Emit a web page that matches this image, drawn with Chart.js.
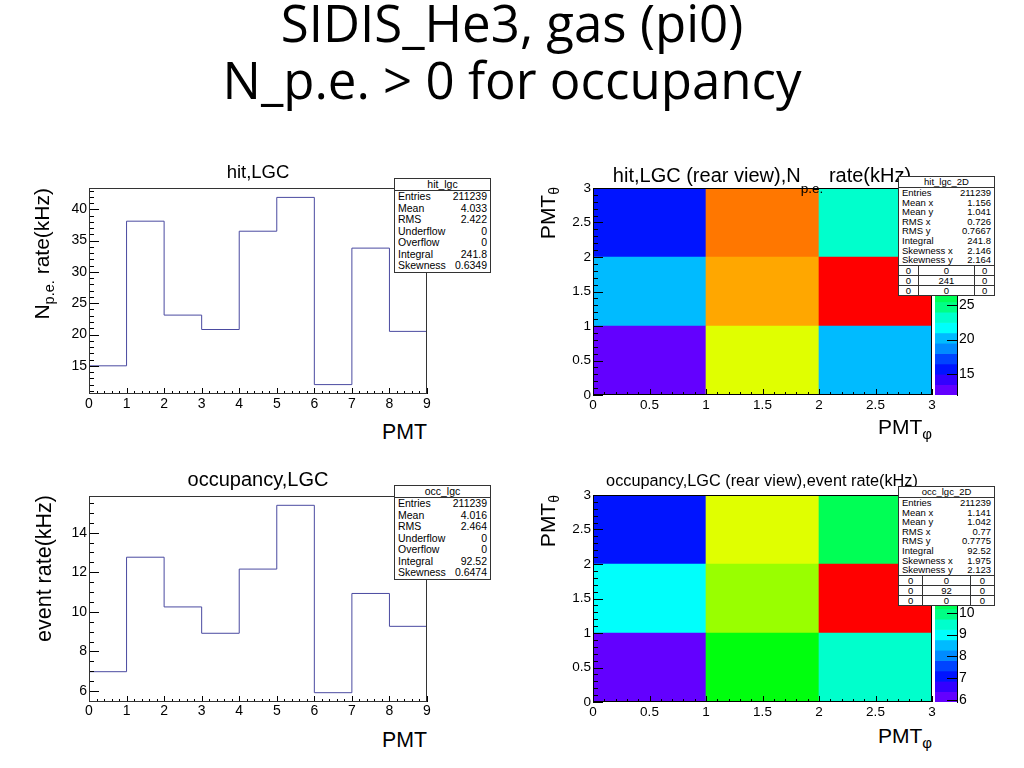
<!DOCTYPE html>
<html>
<head>
<meta charset="utf-8">
<script src="https://cdn.jsdelivr.net/npm/chart.js@4.4.1/dist/chart.umd.min.js"></script>
<style>
  body { margin: 0; width: 1024px; height: 768px; position: relative; overflow: hidden; background: #fff;
         font-family: 'Liberation Sans', Arial, sans-serif; color: #000; }
  canvas { position: absolute; z-index: 1; }
  .t { position: absolute; white-space: nowrap; line-height: 1; z-index: 3; }
  .slide { font-family: 'Open Sans', sans-serif; font-size: 51px; left: 0; width: 1024px; text-align: center; }
  .rot { transform-origin: 0 0; transform: rotate(-90deg); text-align: right; }
  .stats { position: absolute; background: #fff; border: 1px solid #333; z-index: 5; }
  .stats .sh { text-align: center; border-bottom: 1px solid #333; }
  .stats .sr { display: flex; justify-content: space-between; padding: 0 3px; }
  .stats table { border-collapse: collapse; width: 100%; }
  .stats td { border-top: 1px solid #333; border-left: 1px solid #333; text-align: center; padding: 0; }
  .stats td:first-child { border-left: none; }
</style>
</head>
<body>

<div class="t slide" style="top:-3px">SIDIS_He3, gas (pi0)</div>
<div class="t slide" style="top:54px">N_p.e. &gt; 0 for occupancy</div>

<div class="t" style="left:258px; top:163px; font-size:18.5px; transform:translateX(-50%)">hit,LGC</div>
<div class="t" style="left:258px; top:469px; font-size:20px; transform:translateX(-50%)">occupancy,LGC</div>
<div class="t" style="left:762px; top:165px; font-size:20px; transform:translateX(-50%)">hit,LGC (rear view),N<span style="font-size:13.6px; vertical-align:-11px">p.e.</span> rate(kHz)</div>
<div class="t" style="left:762px; top:472px; font-size:16.3px; transform:translateX(-50%)">occupancy,LGC (rear view),event rate(kHz)</div>

<div class="t rot" style="left:31px; top:388px; width:200px; font-size:21px">N<span style="font-size:14.5px; vertical-align:-5px">p.e.</span> rate(kHz)</div>
<div class="t rot" style="left:34px; top:695px; width:200px; font-size:21.5px">event rate(kHz)</div>
<div class="t rot" style="left:537px; top:387px; width:200px; font-size:21px">PMT<span style="font-size:14px; vertical-align:-4px">θ</span></div>
<div class="t rot" style="left:537px; top:695px; width:200px; font-size:21px">PMT<span style="font-size:14px; vertical-align:-4px">θ</span></div>

<div class="t" style="right:597px; top:422px; font-size:21.3px">PMT</div>
<div class="t" style="right:597px; top:730px; font-size:21.3px">PMT</div>
<div class="t" style="right:92px; top:416px; font-size:21px">PMT<span style="font-size:15px; vertical-align:-5px">φ</span></div>
<div class="t" style="right:92px; top:725px; font-size:21px">PMT<span style="font-size:15px; vertical-align:-5px">φ</span></div>

<canvas id="hitHist" width="400" height="235" style="left:40px; top:180px"></canvas>
<canvas id="occHist" width="400" height="235" style="left:40px; top:488px"></canvas>
<canvas id="hitMap" width="390" height="235" style="left:550px; top:180px"></canvas>
<canvas id="occMap" width="390" height="235" style="left:550px; top:487px"></canvas>
<canvas id="hitBar" width="60" height="235" style="left:930px; top:180px"></canvas>
<canvas id="occBar" width="60" height="235" style="left:930px; top:487px"></canvas>

<script>
// PMT bin edges and rates
const pmtEdges = [0, 1, 2, 3, 4, 5, 6, 7, 8, 9];
const hitRate = [15.0, 38.1, 23.1, 20.8, 36.5, 41.9, 12.0, 33.8, 20.5];
const occRate = [6.98, 12.76, 10.25, 8.92, 12.16, 15.38, 5.92, 10.93, 9.27];
const hitYRange = [10.5, 43.4];
const occYRange = [5.45, 15.85];

// rear view: PMT number in each cell, rows from theta 0-1 up to 2-3
const phiEdges = [0, 1, 2, 3];
const thetaEdges = [0, 1, 2, 3];
const cellPmt = [[6, 7, 8], [3, 4, 5], [0, 1, 2]];

const hitStats = [['Entries', '211239'], ['Mean', '4.033'], ['RMS', '2.422'], ['Underflow', '0'],
  ['Overflow', '0'], ['Integral', '241.8'], ['Skewness', '0.6349']];
const occStats = [['Entries', '211239'], ['Mean', '4.016'], ['RMS', '2.464'], ['Underflow', '0'],
  ['Overflow', '0'], ['Integral', '92.52'], ['Skewness', '0.6474']];
const hitStats2D = [['Entries', '211239'], ['Mean x', '1.156'], ['Mean y', '1.041'], ['RMS x', '0.726'],
  ['RMS y', '0.7667'], ['Integral', '241.8'], ['Skewness x', '2.146'], ['Skewness y', '2.164']];
const occStats2D = [['Entries', '211239'], ['Mean x', '1.141'], ['Mean y', '1.042'], ['RMS x', '0.77'],
  ['RMS y', '0.7775'], ['Integral', '92.52'], ['Skewness x', '1.975'], ['Skewness y', '2.123']];
const hitTable = [['0', '0', '0'], ['0', '241', '0'], ['0', '0', '0']];
const occTable = [['0', '0', '0'], ['0', '92', '0'], ['0', '0', '0']];

const nLevels = 20;
const lineColor = '#4a4aa0';

Chart.defaults.font.family = "'Liberation Sans', Arial, sans-serif";
Chart.defaults.color = '#000';

// old ROOT "pretty" palette, 50 colours, 20 contour levels
function levelColor(lvl) {
  var idx = Math.floor((lvl + 0.99) * 50 / nLevels);
  var hue = 280 - (idx + 1) * 280 / 50;
  return 'hsl(' + hue + ',100%,50%)';
}
function zColor(z, zr) {
  var lvl = Math.floor((z - zr[0]) / (zr[1] - zr[0]) * nLevels);
  lvl = Math.max(0, Math.min(nLevels - 1, lvl));
  return levelColor(lvl);
}
function plainNum(v) { return String(Math.round(v * 1000) / 1000); }

// ROOT-like frame and inward tick marks
const rootAxes = {
  id: 'rootAxes',
  afterDatasetsDraw(chart, args, opts) {
    var ctx = chart.ctx, a = chart.chartArea;
    ctx.save();
    ctx.strokeStyle = '#000';
    ctx.lineWidth = 1;
    ctx.beginPath();
    (opts.axes || []).forEach(function (ax) {
      var sc = chart.scales[ax.id];
      var step = sc.options.ticks.stepSize;
      var sub = step / ax.minor;
      var first = Math.ceil((sc.min - 1e-9) / sub);
      for (var k = first; k * sub <= sc.max + 1e-9; k++) {
        var v = k * sub;
        var major = Math.abs(v / step - Math.round(v / step)) < 1e-6;
        var len = major ? ax.len : ax.len / 2;
        var p = Math.round(sc.getPixelForValue(v)) + 0.5;
        if (ax.pos === 'bottom') { ctx.moveTo(p, a.bottom); ctx.lineTo(p, a.bottom - len); }
        if (ax.pos === 'left') { ctx.moveTo(a.left, p); ctx.lineTo(a.left + len, p); }
        if (ax.pos === 'right') { ctx.moveTo(a.right, p); ctx.lineTo(a.right - len, p); }
      }
    });
    ctx.stroke();
    if (opts.frame) {
      ctx.strokeStyle = opts.frame;
      ctx.strokeRect(Math.round(a.left) + 0.5, Math.round(a.top) + 0.5, Math.round(a.width) - 1, Math.round(a.height) - 1);
    }
    ctx.restore();
  }
};

function baseOptions(pad) {
  return {
    responsive: false, animation: false, events: [],
    layout: { padding: pad },
    plugins: { legend: { display: false }, tooltip: { enabled: false } }
  };
}

// fixed axis box so the plot frame lands where the reference has it
function fixSize(w, h) {
  return function (s) {
    if (w !== null) s.width = w;
    if (h !== null) s.height = h;
    s.paddingTop = 0; s.paddingBottom = 0; s.paddingLeft = 0; s.paddingRight = 0;
  };
}

function axisOpts(extra) {
  var o = {
    type: 'linear',
    grid: { display: false, drawTicks: false },
    border: { display: false },
    ticks: { padding: 2, font: { size: 14 }, maxRotation: 0, autoSkip: false, includeBounds: false, callback: plainNum }
  };
  Object.keys(extra).forEach(function (k) {
    if (k === 'ticks') Object.assign(o.ticks, extra.ticks); else o[k] = extra[k];
  });
  return o;
}

function histChart(id, vals, yr, yStep, yMinor, xPad) {
  var pts = pmtEdges.slice(0, -1).map(function (x, i) { return { x: x, y: vals[i] }; });
  pts.push({ x: pmtEdges[pmtEdges.length - 1], y: vals[vals.length - 1] });
  var opt = baseOptions({ top: 8, right: 13, left: 0, bottom: 0 });
  opt.plugins.rootAxes = {
    frame: '#333',
    axes: [{ id: 'x', pos: 'bottom', minor: 5, len: 6 }, { id: 'y', pos: 'left', minor: yMinor, len: 10 }]
  };
  opt.scales = {
    x: axisOpts({ min: pmtEdges[0], max: pmtEdges[pmtEdges.length - 1], ticks: { stepSize: 1, padding: xPad },
      afterFit: fixSize(null, 21) }),
    y: axisOpts({ min: yr[0], max: yr[1], ticks: { stepSize: yStep }, afterFit: fixSize(49, null) })
  };
  return new Chart(document.getElementById(id), {
    type: 'line',
    data: { datasets: [{ data: pts, borderColor: lineColor, borderWidth: 1, pointRadius: 0, stepped: 'before', fill: false }] },
    options: opt,
    plugins: [rootAxes]
  });
}

function mapChart(id, vals, zr) {
  var datasets = thetaEdges.slice(0, -1).map(function (lo, r) {
    return {
      data: phiEdges.slice(0, -1).map(function (x0, c) {
        return { x: (x0 + phiEdges[c + 1]) / 2, y: [lo, thetaEdges[r + 1]] };
      }),
      backgroundColor: cellPmt[r].map(function (p) { return zColor(vals[p], zr); }),
      borderWidth: 0, barThickness: 'flex', categoryPercentage: 1, barPercentage: 1
    };
  });
  var opt = baseOptions({ top: 8, right: 8, left: 0, bottom: 0 });
  opt.plugins.rootAxes = {
    frame: '#000',
    axes: [{ id: 'x', pos: 'bottom', minor: 5, len: 6 }, { id: 'y', pos: 'left', minor: 5, len: 10 }]
  };
  opt.scales = {
    x: axisOpts({ offset: false, stacked: true, min: phiEdges[0], max: phiEdges[phiEdges.length - 1],
      ticks: { stepSize: 0.5, font: { size: 13.5 } }, afterFit: fixSize(null, 20) }),
    y: axisOpts({ stacked: false, min: thetaEdges[0], max: thetaEdges[thetaEdges.length - 1],
      ticks: { stepSize: 0.5, font: { size: 13.5 } }, afterFit: fixSize(43, null) })
  };
  return new Chart(document.getElementById(id), {
    type: 'bar', data: { datasets: datasets }, options: opt, plugins: [rootAxes]
  });
}

function paletteChart(id, zr, zStep) {
  var dz = (zr[1] - zr[0]) / nLevels;
  var levels = [];
  for (var i = 0; i < nLevels; i++) levels.push(i);
  var opt = baseOptions({ top: 8, left: 5, right: 0, bottom: 20 });
  opt.indexAxis = 'y';
  opt.plugins.rootAxes = { axes: [{ id: 'y', pos: 'right', minor: 1, len: 10 }] };
  opt.scales = {
    x: { type: 'linear', min: 0, max: 1, display: false, ticks: { display: false } },
    y: axisOpts({ position: 'right', offset: false, min: zr[0], max: zr[1],
      border: { display: true, color: '#000' },
      ticks: { stepSize: zStep }, afterFit: fixSize(33, null) })
  };
  return new Chart(document.getElementById(id), {
    type: 'bar',
    data: { datasets: [{
      data: levels.map(function (l) { return { y: zr[0] + (l + 0.5) * dz, x: [0, 1] }; }),
      backgroundColor: levels.map(levelColor),
      borderWidth: 0, barThickness: 'flex', categoryPercentage: 1, barPercentage: 1
    }] },
    options: opt,
    plugins: [rootAxes]
  });
}

function statsBox(cfg) {
  var box = document.createElement('div');
  box.className = 'stats';
  box.style.left = cfg.left + 'px';
  box.style.top = cfg.top + 'px';
  box.style.width = cfg.width + 'px';
  box.style.fontSize = cfg.font + 'px';
  var html = '<div class="sh" style="height:' + cfg.head + 'px;line-height:' + cfg.head + 'px">' + cfg.name + '</div>';
  cfg.rows.forEach(function (r) {
    html += '<div class="sr" style="height:' + cfg.row + 'px;line-height:' + cfg.row + 'px"><span>' + r[0] + '</span><span>' + r[1] + '</span></div>';
  });
  if (cfg.table) {
    html += '<table>';
    cfg.table.forEach(function (tr) {
      html += '<tr style="height:' + cfg.cell + 'px;line-height:' + (cfg.cell - 1) + 'px">' +
        tr.map(function (c) { return '<td>' + c + '</td>'; }).join('') + '</tr>';
    });
    html += '</table>';
  }
  box.innerHTML = html;
  document.body.appendChild(box);
}

var hitZ = [Math.min.apply(null, hitRate), Math.max.apply(null, hitRate)];
var occZ = [Math.min.apply(null, occRate), Math.max.apply(null, occRate)];

histChart('hitHist', hitRate, hitYRange, 5, 5, 2);
histChart('occHist', occRate, occYRange, 2, 4, 1);
mapChart('hitMap', hitRate, hitZ);
mapChart('occMap', occRate, occZ);
paletteChart('hitBar', hitZ, 5);
paletteChart('occBar', occZ, 1);

statsBox({ name: 'hit_lgc', rows: hitStats, left: 394, top: 178, width: 95, font: 10.5, head: 11, row: 11.5 });
statsBox({ name: 'occ_lgc', rows: occStats, left: 394, top: 485, width: 95, font: 10.5, head: 11, row: 11.5 });
statsBox({ name: 'hit_lgc_2D', rows: hitStats2D, table: hitTable, left: 898, top: 176, width: 95, font: 9.5, head: 10, row: 9.6, cell: 10 });
statsBox({ name: 'occ_lgc_2D', rows: occStats2D, table: occTable, left: 898, top: 486, width: 95, font: 9.5, head: 10, row: 9.6, cell: 10 });
</script>
</body>
</html>
